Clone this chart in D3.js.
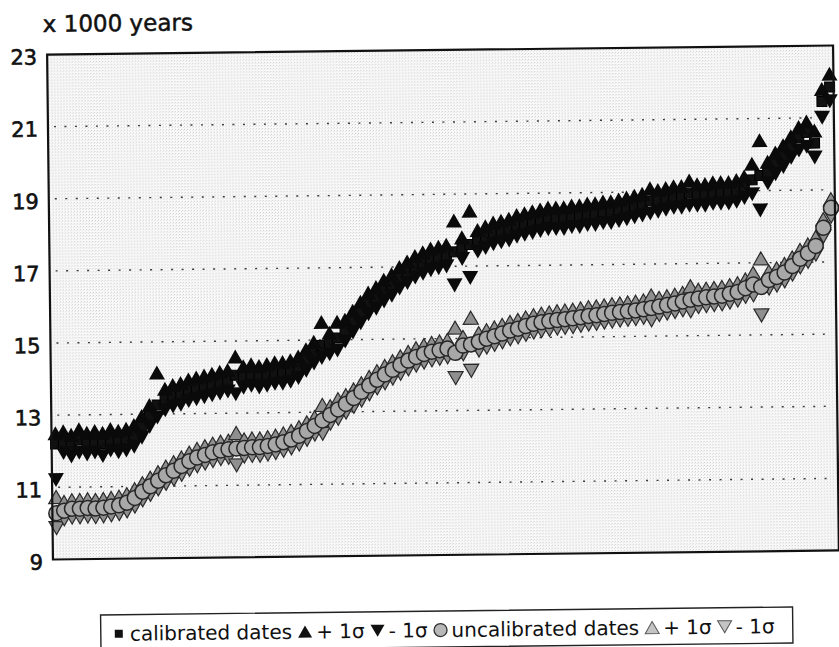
<!DOCTYPE html>
<html>
<head>
<meta charset="utf-8">
<script src="https://cdn.jsdelivr.net/npm/d3@7"></script>
<style>
  body { margin: 0; background: #fff; }
  text { font-family: "DejaVu Sans", "Liberation Sans", sans-serif; fill: #111; }
</style>
</head>
<body>
<svg id="chart" width="839" height="647"></svg>
<script>
// Radiocarbon dates, sorted by calibrated age (thousands of years)
const cal = [12.2,12.25,12.15,12.3,12.2,12.25,12.2,12.3,12.25,12.3,
  12.4,12.65,12.95,13.25,13.4,13.5,13.55,13.65,13.7,13.75,
  13.8,13.85,13.9,14.05,14.0,14.05,14.0,14.05,14.1,14.1,
  14.15,14.25,14.45,14.65,14.85,14.9,15.05,15.25,15.5,15.75,
  16.0,16.15,16.35,16.5,16.7,16.85,17.0,17.1,17.2,17.25,
  17.3,17.4,17.5,17.6,17.7,17.8,17.9,17.95,18.0,18.1,
  18.15,18.2,18.25,18.3,18.3,18.3,18.35,18.35,18.4,18.4,
  18.45,18.45,18.5,18.55,18.6,18.65,18.75,18.75,18.8,18.85,
  18.85,18.95,18.9,18.9,18.95,18.95,18.95,19.0,19.1,19.3,
  19.42,19.5,19.75,19.95,20.2,20.45,20.6,20.3,21.45,21.85];
const calPlus = [12.5,12.55,12.45,12.6,12.5,12.55,12.5,12.6,12.55,12.6,
  12.7,12.95,13.25,14.15,13.7,13.8,13.85,13.95,14.0,14.05,
  14.1,14.15,14.2,14.57,14.3,14.35,14.3,14.35,14.4,14.4,
  14.45,14.55,14.75,14.95,15.5,15.2,15.5,15.55,15.8,16.05,
  16.3,16.45,16.65,16.8,17.0,17.15,17.3,17.4,17.5,17.55,
  17.6,18.27,17.8,18.54,18.0,18.1,18.2,18.25,18.3,18.4,
  18.45,18.5,18.55,18.6,18.6,18.6,18.65,18.65,18.7,18.7,
  18.75,18.75,18.8,18.85,18.9,18.95,19.1,19.05,19.1,19.15,
  19.15,19.3,19.2,19.2,19.25,19.25,19.25,19.3,19.4,19.75,
  20.4,19.8,20.05,20.25,20.5,20.75,20.9,20.65,21.8,22.22];
const calMinus = [11.2,11.95,11.85,11.95,11.9,11.95,11.85,12.0,11.95,12.0,
  12.1,12.35,12.65,12.9,13.1,13.2,13.25,13.35,13.4,13.45,
  13.5,13.55,13.6,13.52,13.7,13.75,13.7,13.75,13.8,13.8,
  13.85,13.95,14.15,14.35,14.5,14.6,14.7,14.95,15.2,15.45,
  15.7,15.85,16.05,16.2,16.4,16.55,16.7,16.8,16.9,16.95,
  17.0,16.47,17.2,16.67,17.4,17.5,17.6,17.65,17.7,17.8,
  17.85,17.9,17.95,18.0,18.0,18.0,18.05,18.05,18.1,18.1,
  18.15,18.15,18.2,18.25,18.3,18.35,18.4,18.45,18.5,18.55,
  18.55,18.6,18.6,18.6,18.65,18.65,18.65,18.7,18.8,18.9,
  18.45,19.2,19.45,19.65,19.9,20.1,20.2,19.9,21.0,21.45];
const uncal = [10.28,10.35,10.4,10.4,10.42,10.4,10.42,10.45,10.48,10.55,
  10.68,10.85,11.0,11.15,11.3,11.42,11.55,11.68,11.78,11.85,
  11.92,11.97,12.0,12.02,12.03,12.05,12.05,12.08,12.12,12.18,
  12.25,12.35,12.48,12.62,12.77,12.92,13.07,13.22,13.38,13.55,
  13.72,13.88,14.02,14.15,14.28,14.4,14.5,14.58,14.64,14.68,
  14.72,14.6,14.8,14.83,14.9,14.98,15.05,15.12,15.2,15.25,
  15.32,15.38,15.42,15.45,15.48,15.5,15.52,15.55,15.58,15.6,
  15.63,15.66,15.68,15.7,15.72,15.75,15.78,15.82,15.86,15.9,
  15.95,16.0,16.03,16.06,16.08,16.1,16.15,16.2,16.3,16.4,
  16.33,16.52,16.6,16.72,16.9,17.1,17.25,17.45,17.95,18.5];
const uncalPlus = [10.73,10.59,10.64,10.64,10.66,10.64,10.66,10.69,10.72,10.79,
  10.92,11.09,11.24,11.39,11.54,11.66,11.79,11.92,12.02,12.09,
  12.16,12.21,12.24,12.45,12.27,12.29,12.29,12.32,12.36,12.42,
  12.49,12.59,12.72,12.86,13.2,13.16,13.35,13.46,13.62,13.79,
  13.96,14.12,14.26,14.39,14.52,14.64,14.74,14.82,14.88,14.92,
  14.96,15.3,15.04,15.57,15.14,15.22,15.29,15.36,15.44,15.49,
  15.56,15.62,15.66,15.69,15.72,15.74,15.76,15.79,15.82,15.84,
  15.87,15.9,15.92,15.94,15.96,15.99,16.13,16.06,16.1,16.14,
  16.19,16.37,16.27,16.3,16.32,16.34,16.39,16.44,16.54,16.72,
  17.12,16.76,16.84,16.96,17.14,17.34,17.49,17.69,18.19,18.74];
const uncalMinus = [9.87,10.11,10.16,10.16,10.18,10.16,10.18,10.21,10.24,10.31,
  10.44,10.61,10.76,10.91,11.06,11.18,11.31,11.44,11.54,11.61,
  11.68,11.73,11.76,11.55,11.79,11.81,11.81,11.84,11.88,11.94,
  12.01,12.11,12.24,12.38,12.4,12.68,12.81,12.98,13.14,13.31,
  13.48,13.64,13.78,13.91,14.04,14.16,14.26,14.34,14.4,14.44,
  14.48,13.9,14.56,14.1,14.66,14.74,14.81,14.88,14.96,15.01,
  15.08,15.14,15.18,15.21,15.24,15.26,15.28,15.31,15.34,15.36,
  15.39,15.42,15.44,15.46,15.48,15.51,15.44,15.58,15.62,15.66,
  15.71,15.68,15.79,15.82,15.84,15.86,15.91,15.96,16.06,16.1,
  15.54,16.28,16.36,16.48,16.66,16.86,17.01,17.21,17.71,18.26];

const yTicks = [9, 11, 13, 15, 17, 19, 21, 23];
const gridTicks = [11, 13, 15, 17, 19, 21];
const axisTitle = "x 1000 years";
const legendItems = [
  { mark: "square", label: "calibrated dates" },
  { mark: "upBlack", label: "+ 1σ" },
  { mark: "downBlack", label: "- 1σ" },
  { mark: "circle", label: "uncalibrated dates" },
  { mark: "upGray", label: "+ 1σ" },
  { mark: "downGray", label: "- 1σ" }
];

const svg = d3.select("#chart");
const plot = { left: 50, right: 836, top: 50, bottom: 555 };

const defs = svg.append("defs");
const pat = defs.append("pattern").attr("id", "screen")
  .attr("width", 3).attr("height", 3).attr("patternUnits", "userSpaceOnUse");
pat.append("rect").attr("width", 3).attr("height", 3).attr("fill", "#f9f9f9");
pat.append("rect").attr("width", 1).attr("height", 1).attr("fill", "#cccccc");
pat.append("rect").attr("x", 2).attr("y", 1).attr("width", 1).attr("height", 1).attr("fill", "#e2e2e2");

// whole sheet sits slightly askew on the page
const root = svg.append("g").attr("transform", "rotate(-0.66 443 302)");

const x = d3.scaleLinear().domain([-0.5, cal.length - 0.5]).range([plot.left, plot.right]);
const y = d3.scaleLinear().domain([9, 23]).range([plot.bottom, plot.top]);

root.append("rect")
  .attr("x", plot.left).attr("y", plot.top)
  .attr("width", plot.right - plot.left).attr("height", plot.bottom - plot.top)
  .attr("fill", "url(#screen)");

root.append("g").selectAll("line").data(gridTicks).join("line")
  .attr("x1", plot.left + 6).attr("x2", plot.right - 4)
  .attr("y1", d => y(d)).attr("y2", d => y(d))
  .attr("stroke", "#3a3a3a").attr("stroke-width", 1.4)
  .attr("stroke-dasharray", "2 8.5");

// y axis labels
const yAxis = d3.axisLeft(y).tickValues(yTicks).tickSize(0).tickPadding(0).tickFormat(d3.format("d"));
const ya = root.append("g").attr("transform", "translate(40,0)").call(yAxis);
ya.select(".domain").remove();
ya.selectAll("text")
  .attr("x", 0).attr("dy", null).attr("y", 9.4)
  .style("font-family", "'DejaVu Sans', sans-serif")
  .style("font-size", "21px").style("fill", "#111")
  .style("stroke", "#111").style("stroke-width", "0.6px");

root.append("text").attr("x", 46).attr("y", 27.4)
  .style("font-size", "23px").style("stroke", "#111").style("stroke-width", "0.5px")
  .text(axisTitle);

function triPath(cx, cy, up, w, h) {
  const t = up ? -1 : 1;
  return `M${cx - w / 2},${cy - t * h / 2}L${cx + w / 2},${cy - t * h / 2}L${cx},${cy + t * h / 2}Z`;
}

const idx = d3.range(cal.length);
const marks = root.append("g");

// calibrated series
marks.append("g").selectAll("rect").data(idx).join("rect")
  .attr("x", i => x(i) - 5).attr("y", i => y(cal[i]) - 5)
  .attr("width", 10).attr("height", 10)
  .attr("fill", "#111").attr("stroke", "#000");
marks.append("g").selectAll("path").data(idx).join("path")
  .attr("d", i => triPath(x(i), y(calPlus[i]), true, 16, 14))
  .attr("fill", "#0a0a0a");
marks.append("g").selectAll("path").data(idx).join("path")
  .attr("d", i => triPath(x(i), y(calMinus[i]), false, 16, 14))
  .attr("fill", "#0a0a0a");

// uncalibrated series
marks.append("g").selectAll("path").data(idx).join("path")
  .attr("d", i => triPath(x(i), y(uncalPlus[i]), true, 15, 13))
  .attr("fill", "#8f8f8f").attr("stroke", "#2a2a2a").attr("stroke-width", 1.2);
marks.append("g").selectAll("path").data(idx).join("path")
  .attr("d", i => triPath(x(i), y(uncalMinus[i]), false, 15, 13))
  .attr("fill", "#8f8f8f").attr("stroke", "#2a2a2a").attr("stroke-width", 1.2);
marks.append("g").selectAll("circle").data(idx).join("circle")
  .attr("cx", i => x(i)).attr("cy", i => y(uncal[i])).attr("r", 7.5)
  .attr("fill", "#a8a8a8").attr("stroke", "#262626").attr("stroke-width", 1.5);

// plot frame
root.append("rect")
  .attr("x", plot.left).attr("y", plot.top)
  .attr("width", plot.right - plot.left).attr("height", plot.bottom - plot.top)
  .attr("fill", "none").attr("stroke", "#111").attr("stroke-width", 2.2);

// legend
const lg = root.append("g");
const box = { x: 97, y: 611, w: 692, h: 36 };
lg.append("rect").attr("x", box.x).attr("y", box.y).attr("width", box.w).attr("height", box.h)
  .attr("fill", "#fff").attr("stroke", "#222").attr("stroke-width", 1.4);
const ly = box.y + 19;
let cx = box.x + 12;
legendItems.forEach(item => {
  const mx = cx + 6;
  if (item.mark === "square") {
    lg.append("rect").attr("x", mx - 4).attr("y", ly - 4).attr("width", 8).attr("height", 8).attr("fill", "#111");
  } else if (item.mark === "circle") {
    lg.append("circle").attr("cx", mx).attr("cy", ly).attr("r", 6.5).attr("fill", "#b8b8b8").attr("stroke", "#333").attr("stroke-width", 1.3);
  } else {
    const up = item.mark.startsWith("up");
    const black = item.mark.endsWith("Black");
    lg.append("path").attr("d", triPath(mx, ly, up, 14, 12))
      .attr("fill", black ? "#111" : "#c4c4c4")
      .attr("stroke", black ? "none" : "#555").attr("stroke-width", 1);
  }
  const t = lg.append("text").attr("x", cx + 17).attr("y", ly + 7)
    .style("font-size", "20px").text(item.label);
  cx = cx + 17 + t.node().getComputedTextLength() + 7;
});
</script>
</body>
</html>
